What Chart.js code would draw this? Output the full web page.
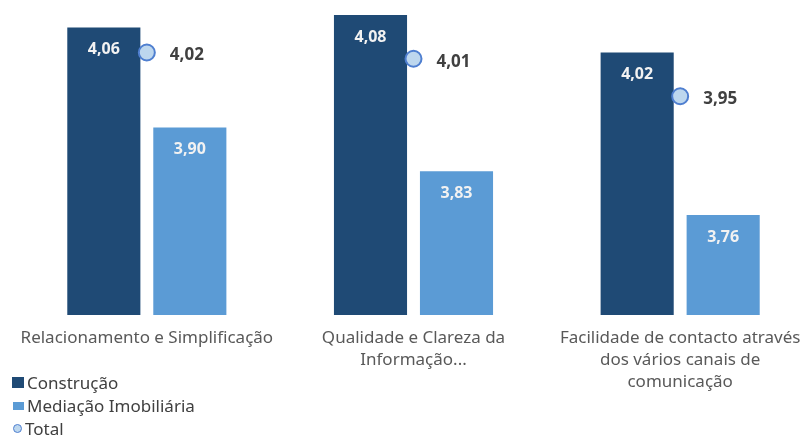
<!DOCTYPE html>
<html>
<head>
<meta charset="utf-8">
<script src="https://cdn.jsdelivr.net/npm/chart.js@4/dist/chart.umd.min.js"></script>
<style>
  html, body { margin: 0; padding: 0; background: #fff; overflow: hidden; }
  #wrap { position: relative; width: 820px; height: 436px; }
  #legend { position: absolute; left: 12px; top: 371px; font: 17px "Noto Sans", sans-serif; color: #404040; }
  #legend div { height: 23px; line-height: 23px; display: flex; align-items: center; }
  #legend span.mk { display: inline-block; margin-right: 3px; }
</style>
</head>
<body>
<div id="wrap">
  <canvas id="chart" width="820" height="436"></canvas>
  <div id="legend"></div>
</div>
<script>
// categories and series
const categories = [
    ['Relacionamento e Simplificação'],
    ['Qualidade e Clareza da', 'Informação...'],
    ['Facilidade de contacto através', 'dos vários canais de', 'comunicação']
];
const construcao = [4.06, 4.08, 4.02];
const mediacao = [3.90, 3.83, 3.76];
const total = [4.02, 4.01, 3.95];

const darkBlue = '#1F4A75';
const lightBlue = '#5B9BD5';

const fmt = v => v.toFixed(2).replace('.', ',');

// value labels: inside the bars and beside the total markers
const valueLabels = {
    id: 'valueLabels',
    afterDatasetsDraw(chart) {
        const ctx = chart.ctx;
        ctx.save();
        ctx.textBaseline = 'middle';
        chart.data.datasets.forEach((ds, i) => {
            const meta = chart.getDatasetMeta(i);
            meta.data.forEach((el, j) => {
                const v = ds.data[j];
                if (ds.type === 'line') {
                    ctx.font = 'bold 17px "Noto Sans", sans-serif';
                    ctx.fillStyle = '#404040';
                    ctx.textAlign = 'left';
                    ctx.fillText(fmt(v), el.x + 23, el.y + 3);
                } else {
                    ctx.font = 'bold 16px "Noto Sans", sans-serif';
                    ctx.fillStyle = '#F2F2F2';
                    ctx.textAlign = 'center';
                    ctx.fillText(fmt(v), el.x, el.y + 22);
                }
            });
        });
        ctx.restore();
    }
};

const data = {
    labels: categories,
    datasets: [
        {
            type: 'line',
            label: 'Total',
            data: total,
            showLine: false,
            pointRadius: 8,
            pointBackgroundColor: '#BDD7EE',
            pointBorderColor: '#4F7FD0',
            pointBorderWidth: 2,
            order: 0
        },
        {
            label: 'Construção',
            data: construcao,
            backgroundColor: darkBlue,
            categoryPercentage: 0.645,
            barPercentage: 0.85,
            order: 1
        },
        {
            label: 'Mediação Imobiliária',
            data: mediacao,
            backgroundColor: lightBlue,
            categoryPercentage: 0.645,
            barPercentage: 0.85,
            order: 1
        }
    ]
};

const config = {
    type: 'bar',
    data: data,
    plugins: [valueLabels],
    options: {
        responsive: false,
        animation: false,
        layout: { autoPadding: false, padding: { left: 13.5, right: 6.5, top: 2.5 } },
        plugins: {
            legend: { display: false },
            tooltip: { enabled: false }
        },
        scales: {
            x: {
                grid: { display: false, drawTicks: false },
                border: { display: false },
                ticks: {
                    padding: 12,
                    color: '#595959',
                    font: { family: '"Noto Sans", sans-serif', size: 17, lineHeight: 1.3 },
                    maxRotation: 0,
                    autoSkip: false
                },
                afterFit: s => { s.height = 121; }
            },
            y: {
                display: false,
                min: 3.6,
                max: 4.1
            }
        }
    }
};

new Chart(document.getElementById('chart'), config);

// legend stacked in the lower left corner
const legendItems = [
    { text: 'Construção', style: 'width:12px;height:11px;background:' + darkBlue },
    { text: 'Mediação Imobiliária', style: 'width:11px;height:8px;background:' + lightBlue + ';margin-left:1px' },
    { text: 'Total', style: 'width:7px;height:7px;border-radius:50%;background:#BDD7EE;border:1.5px solid #4F7FD0;margin-left:1px' }
];
const legend = document.getElementById('legend');
legendItems.forEach(item => {
    const row = document.createElement('div');
    row.innerHTML = '<span class="mk" style="' + item.style + '"></span>' + item.text;
    legend.appendChild(row);
});
</script>
</body>
</html>
